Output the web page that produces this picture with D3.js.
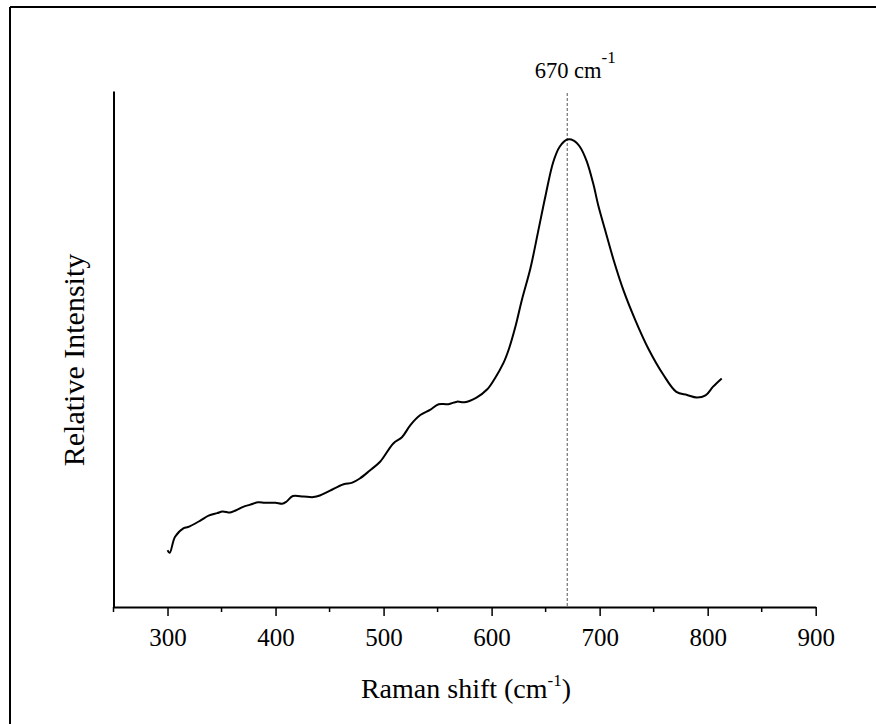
<!DOCTYPE html>
<html><head><meta charset="utf-8">
<script src="https://cdn.jsdelivr.net/npm/d3@7"></script>
<style>html,body{margin:0;padding:0;background:#fff;}svg{display:block;}</style>
</head><body>
<svg id="c" width="876" height="724"></svg>
<script>
// Raman spectrum
const ramanShift = [300,302,307,315,319,330,338,346,351,358,363,370,376,384,390,400,406,410,416,426,435,441,450,463,471,478,487,497,509,517,525,534,543,551,560,568,575,586,596,603,611,616,622,628,636,643,650,657,663,670,676,682,688,694,699,705,713,722,733,745,759,771,781,790,798,805,813];
const intensity  = [11.0,10.5,13.6,15.3,15.5,16.7,17.7,18.2,18.5,18.3,18.7,19.4,19.8,20.3,20.2,20.2,20.0,20.4,21.5,21.4,21.3,21.6,22.5,23.8,24.1,24.9,26.4,28.2,31.7,32.9,35.3,37.2,38.2,39.3,39.3,39.8,39.7,40.6,42.2,44.3,47.3,50.0,54.3,59.5,65.7,72.7,79.8,86.2,89.2,90.6,90.4,89.1,86.4,82.1,77.6,73.1,67.2,61.4,55.6,50.1,45.0,41.7,41.1,40.6,41.0,42.7,44.3];
const xTicks = [300,400,500,600,700,800,900];
const xMinorTicks = [250,350,450,550,650,750,850];
const peakPos = 670;
const xDomain = [250, 900];
const yDomain = [0, 100];

const svg = d3.select("#c");
const font = "'Liberation Serif','Times New Roman',serif";

// outer frame (left and top edges visible)
svg.append("line").attr("x1",10).attr("x2",10).attr("y1",7).attr("y2",724).attr("stroke","#000").attr("stroke-width",2);
svg.append("line").attr("x1",10).attr("x2",876).attr("y1",7).attr("y2",7).attr("stroke","#000").attr("stroke-width",2);

const x = d3.scaleLinear().domain(xDomain).range([113.5, 815.7]);
const y = d3.scaleLinear().domain(yDomain).range([607, 91]);

// dashed peak line
svg.append("line").attr("x1",x(peakPos)).attr("x2",x(peakPos)).attr("y1",93).attr("y2",607)
  .attr("stroke","#555").attr("stroke-width",1).attr("stroke-dasharray","3,2");

// x axis
const gx = svg.append("g").attr("transform","translate(0,607)");
gx.call(d3.axisBottom(x).tickValues(xTicks).tickSize(9).tickSizeOuter(0).tickFormat(d3.format("d")));
gx.append("g").selectAll("line").data(xMinorTicks).join("line")
  .attr("x1",d=>x(d)).attr("x2",d=>x(d)).attr("y1",0).attr("y2",5).attr("stroke","#000").attr("stroke-width",1.5);
gx.select(".domain").attr("stroke","#000").attr("stroke-width",2);
gx.selectAll(".tick line").attr("stroke","#000").attr("stroke-width",1.5);
gx.selectAll(".tick text").attr("font-family",font).attr("font-size",25).attr("fill","#000").attr("dy","0").attr("y",39);

// y axis (no ticks)
const gy = svg.append("g").attr("transform","translate(113.5,0)");
gy.call(d3.axisLeft(y).tickValues([]).tickSizeOuter(0));
gy.select(".domain").attr("stroke","#000").attr("stroke-width",2);

// spectrum line
const pts = ramanShift.map((d,i)=>[d,intensity[i]]);
svg.append("path").datum(pts)
  .attr("d", d3.line().x(d=>x(d[0])).y(d=>y(d[1])).curve(d3.curveCatmullRom.alpha(0.5)))
  .attr("fill","none").attr("stroke","#000").attr("stroke-width",2);

// peak label
const pl = svg.append("text").attr("x",x(peakPos)+8).attr("y",78).attr("text-anchor","middle")
  .attr("font-family",font).attr("font-size",22.5).attr("fill","#000");
pl.append("tspan").text("670 cm");
pl.append("tspan").attr("dy",-15).attr("font-size",17).text("-1");

// x title
const xt = svg.append("text").attr("x",466).attr("y",698).attr("text-anchor","middle")
  .attr("font-family",font).attr("font-size",28).attr("fill","#000");
xt.append("tspan").text("Raman shift (cm");
xt.append("tspan").attr("dy",-12).attr("font-size",17).text("-1");
xt.append("tspan").attr("dy",12).text(")");

// y title
svg.append("text").attr("transform","translate(84,360) rotate(-90)").attr("text-anchor","middle")
  .attr("font-family",font).attr("font-size",30).attr("fill","#000").text("Relative Intensity");
</script>
</body></html>
